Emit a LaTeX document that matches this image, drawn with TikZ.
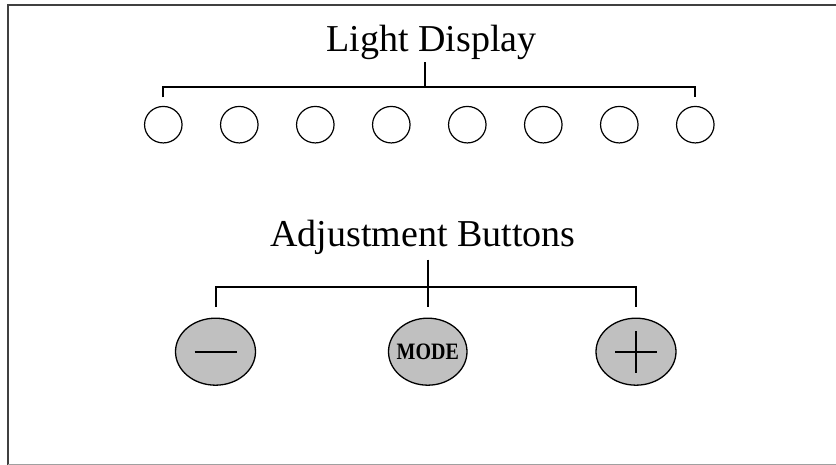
\documentclass[tikz,border=0pt]{standalone}
\usepackage{fontspec}
\setmainfont{Liberation Serif}
\newfontfamily\modefont[FakeStretch=0.85]{Liberation Serif}
\usepackage{tikz}
\usetikzlibrary{positioning, calc, shapes}
\definecolor{buttonGrey}{HTML}{C0C0C0}
\definecolor{frameDark}{HTML}{404040}
\definecolor{frameLight}{HTML}{A0A0A0}
\tikzstyle{headline} =[inner sep=0pt, outer sep=0pt, font=\fontsize{38}{42}\selectfont]
\tikzstyle{light} =[ellipse, draw, line width=1.2pt, minimum width=37.5pt, minimum height=36.5pt, inner sep=0pt, outer sep=0pt]
\tikzstyle{button} =[ellipse, draw, line width=1.3pt, fill=buttonGrey, minimum width=80pt, minimum height=67pt, inner sep=0pt, outer sep=0pt]
\tikzstyle{branch} =[line width=2pt, black]
\tikzstyle{sign} =[line width=2pt, black]

\begin{document}
\begin{tikzpicture}[x=1pt, y=1pt]
\useasboundingbox (0,0) rectangle (836,465);

%frame
\draw[line width=2.5pt, frameDark] (8,-5) -- (8,460) -- (840,460);
\draw[line width=1pt, frameLight] (8,0.5) -- (840,0.5);

\node (lightTitle) [headline, anchor=base] at (431.5,413) {Light Display};

\node (light1) [light] at (163.3,340.3) {};
\node (light2) [light, right=38.5pt of light1] {};
\node (light3) [light, right=38.5pt of light2] {};
\node (light4) [light, right=38.5pt of light3] {};
\node (light5) [light, right=38.5pt of light4] {};
\node (light6) [light, right=38.5pt of light5] {};
\node (light7) [light, right=38.5pt of light6] {};
\node (light8) [light, right=38.5pt of light7] {};

\coordinate (lightBar) at ($(light1.north)!0.5!(light8.north)+(-4,19.5)$);

\draw[branch]
	([yshift=-2pt]lightTitle.south -| lightBar) -- (lightBar);
\draw[branch]
	($(light1.north)+(0,9)$) |- (lightBar) -| ($(light8.north)+(0,9)$);

\node (adjustTitle) [headline, anchor=base] at (423,218.5) {Adjustment Buttons};

\node (minus) [button] at (215.5,113.3) {};
\node (mode) [button, minimum width=78.5pt, inner xsep=-4pt, right=133pt of minus, font=\modefont\bfseries\fontsize{23.5}{26}\selectfont] {MODE};
\node (plus) [button, right=129pt of mode] {};

%signs
\draw[sign] ([xshift=-21pt]minus.center) -- ([xshift=21pt]minus.center);
\draw[sign] ([xshift=-21pt]plus.center) -- ([xshift=21pt]plus.center)
	([yshift=-21pt]plus.center) -- ([yshift=21pt]plus.center);

\coordinate (buttonBar) at ($(mode.north)+(0,31)$);

\draw[branch]
	([yshift=-5pt]adjustTitle.south -| mode) -- ($(mode.north)+(0,11)$);
\draw[branch]
	($(minus.north)+(0,11)$) |- (buttonBar) -| ($(plus.north)+(0,11)$);

\end{tikzpicture}
\end{document}
